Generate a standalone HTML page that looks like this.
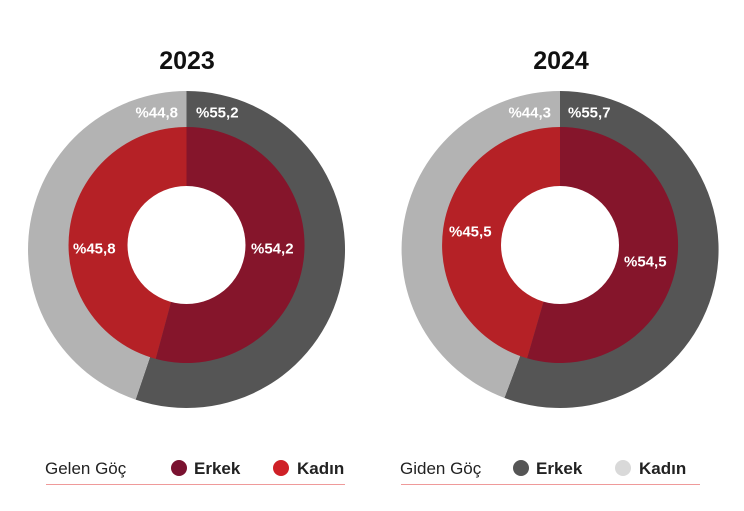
<!DOCTYPE html>
<html><head><meta charset="utf-8"><style>
html,body{margin:0;padding:0;background:#fff;}
svg{display:block;font-family:"Liberation Sans",sans-serif;}
.l{fill:#fff;font-weight:bold;font-size:15px;dominant-baseline:central;}
.t{font-weight:bold;font-size:25px;fill:#111;text-anchor:middle;}
.g{font-size:17px;fill:#222;}
.b{font-size:17px;font-weight:bold;fill:#222;}
</style></head><body>
<svg width="744" height="511" viewBox="0 0 744 511">
<text class="t" x="187" y="69">2023</text>
<text class="t" x="561" y="69">2024</text>

<path d="M186.5,91 A158.5,158.5 0 1 1 135.6,399.6 L186.5,249.5 Z" fill="#555555"/>
<path d="M135.6,399.6 A158.5,158.5 0 0 1 186.5,91 L186.5,249.5 Z" fill="#b3b3b3"/>
<path d="M186.5,127 A118,118 0 1 1 155.7,358.9 L186.5,245 Z" fill="#85152b"/>
<path d="M155.7,358.9 A118,118 0 0 1 186.5,127 L186.5,245 Z" fill="#b52126"/>
<circle cx="186.5" cy="245" r="59" fill="#fff"/>
<text class="l" x="178" y="113" text-anchor="end">%44,8</text>
<text class="l" x="196" y="113">%55,2</text>
<text class="l" x="73" y="249">%45,8</text>
<text class="l" x="251" y="249">%54,2</text>

<path d="M560,91 A158.5,158.5 0 1 1 504.4,397.9 L560,249.5 Z" fill="#555555"/>
<path d="M504.4,397.9 A158.5,158.5 0 0 1 560,91 L560,249.5 Z" fill="#b3b3b3"/>
<path d="M560,127 A118,118 0 1 1 527.1,358.3 L560,245 Z" fill="#85152b"/>
<path d="M527.1,358.3 A118,118 0 0 1 560,127 L560,245 Z" fill="#b52126"/>
<circle cx="560" cy="245" r="59" fill="#fff"/>
<text class="l" x="551" y="113" text-anchor="end">%44,3</text>
<text class="l" x="568" y="113">%55,7</text>
<text class="l" x="449" y="232">%45,5</text>
<text class="l" x="624" y="262">%54,5</text>

<text class="g" x="45" y="474">Gelen Göç</text>
<circle cx="179" cy="468" r="8" fill="#7a1230"/>
<text class="b" x="194" y="474">Erkek</text>
<circle cx="281" cy="468" r="8" fill="#cf2027"/>
<text class="b" x="297" y="474">Kadın</text>
<line x1="46" y1="484.5" x2="345" y2="484.5" stroke="#ef9a9a" stroke-width="1"/>

<text class="g" x="400" y="474">Giden Göç</text>
<circle cx="521" cy="468" r="8" fill="#555555"/>
<text class="b" x="536" y="474">Erkek</text>
<circle cx="623" cy="468" r="8" fill="#d9d9d9"/>
<text class="b" x="639" y="474">Kadın</text>
<line x1="401" y1="484.5" x2="700" y2="484.5" stroke="#ef9a9a" stroke-width="1"/>
</svg>
</body></html>
